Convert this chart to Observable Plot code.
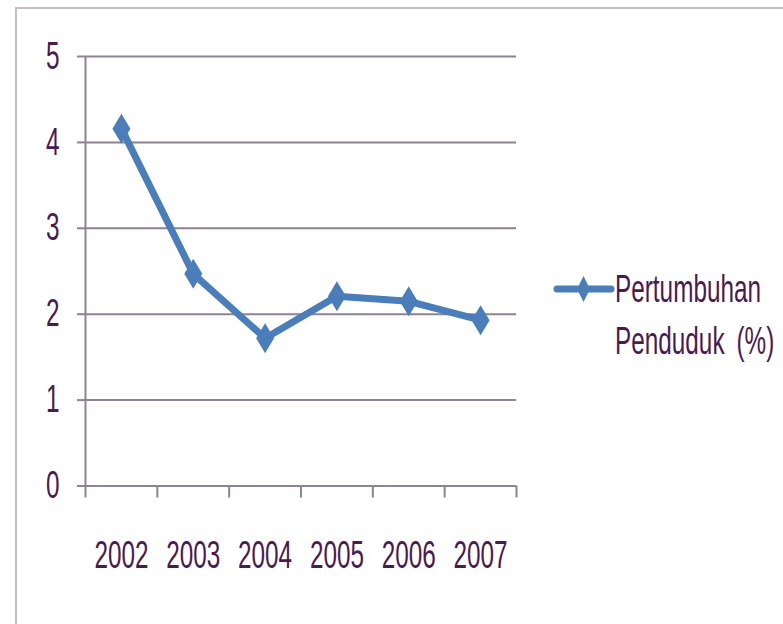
<!DOCTYPE html>
<html><head><meta charset="utf-8">
<script src="https://cdn.jsdelivr.net/npm/d3@7"></script>
<script src="https://cdn.jsdelivr.net/npm/@observablehq/plot@0.6"></script>
<style>
html,body{margin:0;padding:0;background:#fff;overflow:hidden;width:783px;height:624px;}
#wrap{position:relative;width:783px;height:624px;}
#frame{position:absolute;left:15px;top:7px;width:900px;height:800px;border:2px solid #c4bcc8;box-sizing:border-box;}
#chart{position:absolute;left:0;top:0;}
#legend{position:absolute;left:554px;top:268px;font-family:"Liberation Sans",sans-serif;font-size:38px;color:#4b1a52;}
#legend .txt{position:absolute;left:61px;top:-5.5px;line-height:52px;white-space:nowrap;transform:scaleX(0.64);transform-origin:left top;}
</style></head>
<body><div id="wrap"><div id="frame"></div><div id="chart"></div>
<div id="legend"><svg width="62" height="40" style="position:absolute;left:0;top:6px;overflow:visible"><line x1="3" y1="15" x2="57" y2="15" stroke="#4a7ebb" stroke-width="7" stroke-linecap="round"/><path d="M29.5,2 L36,15 L29.5,28 L23,15 Z" fill="#4a7ebb"/></svg><div class="txt">Pertumbuhan<br>Penduduk <span style="margin-left:8px">(%)</span></div></div>
</div>
<script>
const years = ["2002","2003","2004","2005","2006","2007"];
const values = [4.16, 2.47, 1.72, 2.21, 2.15, 1.93];
const yTicks = [0,1,2,3,4,5];
const seriesName = "Pertumbuhan Penduduk (%)";

const data = years.map((y,i)=>({year:y, pos:i+0.5, value:values[i]}));
const diamond = {draw(ctx){const w=9,h=15;ctx.moveTo(0,-h);ctx.lineTo(w,0);ctx.lineTo(0,h);ctx.lineTo(-w,0);ctx.closePath();}};
const gridColor = "#8f8292";
const textColor = "#4b1a52";
const font = "Liberation Sans, sans-serif";

const chart = Plot.plot({
  width:783, height:624,
  marginLeft:85, marginRight:267, marginTop:56, marginBottom:138.5,
  style:{fontFamily:font, fontSize:"38px", color:textColor, background:"transparent", overflow:"visible"},
  x:{type:"linear", domain:[0,years.length], axis:null},
  y:{domain:[0,5], axis:null},
  marks:[
    Plot.gridY(yTicks.filter(d=>d>0), {stroke:gridColor, strokeOpacity:1, strokeWidth:2}),
    Plot.axisY(yTicks, {tickSize:8, tickPadding:18, tickFormat:d=>String(d), stroke:gridColor, strokeWidth:2, fill:textColor, dy:0, label:null}),
    Plot.ruleX([0], {stroke:gridColor, strokeWidth:2}),
    Plot.ruleY([0], {stroke:gridColor, strokeWidth:2}),
    Plot.axisX(d3.range(years.length+1), {tickSize:12, tickFormat:()=>"", stroke:gridColor, strokeWidth:2, label:null}),
    Plot.axisX(data.map(d=>d.pos), {tickSize:0, tickPadding:55, tickFormat:(d)=>years[Math.floor(d)], fill:textColor, label:null}),
    Plot.line(data, {x:"pos", y:"value", stroke:"#4a7ebb", strokeWidth:7, strokeLinejoin:"round", strokeLinecap:"round"}),
    Plot.dot(data, {x:"pos", y:"value", symbol:diamond, fill:"#4a7ebb", stroke:null, r:5, title:d=>seriesName+": "+d.value})
  ]
});
document.getElementById("chart").appendChild(chart);
// condense tick label glyphs horizontally around their anchors
chart.querySelectorAll("text").forEach(t=>{
  const s = 0.64;
  const tr = t.getAttribute("transform");
  if (tr) { t.setAttribute("transform", tr + ` scale(${s},1)`); }
  else {
    const x = +t.getAttribute("x")||0, y = +t.getAttribute("y")||0;
    t.setAttribute("transform", `translate(${x},${y}) scale(${s},1) translate(${-x},${-y})`);
  }
});
</script>
</body></html>
